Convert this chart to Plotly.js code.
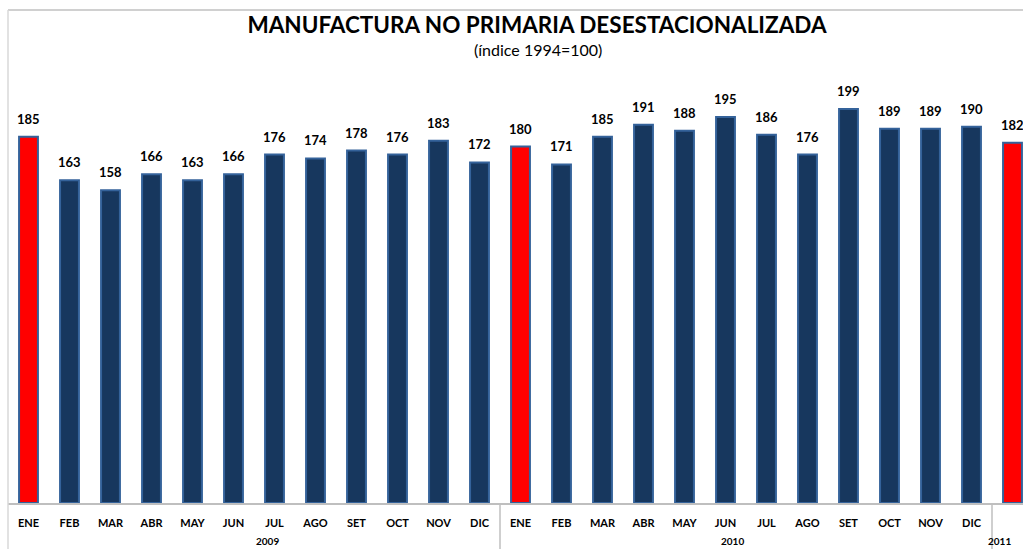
<!DOCTYPE html>
<html>
<head>
<meta charset="utf-8">
<script src="https://cdn.plot.ly/plotly-3.0.1.min.js"></script>
<style>
html,body{margin:0;padding:0;background:#fff;}
#chart{width:1023px;height:549px;}
</style>
</head>
<body>
<div id="chart"></div>
<script>
// Data
var months = ["ENE","FEB","MAR","ABR","MAY","JUN","JUL","AGO","SET","OCT","NOV","DIC",
              "ENE","FEB","MAR","ABR","MAY","JUN","JUL","AGO","SET","OCT","NOV","DIC",
              "ENE"];
var values = [185,163,158,166,163,166,176,174,178,176,183,172,
              180,171,185,191,188,195,186,176,199,189,189,190,
              182];
var years = ["2009","2010","2011"];
var yearCenters = [5.5,17.5,24];
var yearSeparators = [11.5,23.5];

var W = 1023, H = 549;
var mL = 8, mR = 0, mT = 10, mB = 46;
var plotW = W - mL - mR, plotH = H - mT - mB;
var catPx = 41;
var xSpan = plotW / catPx;
var xr = [-0.5, -0.5 + xSpan];
var pxPerUnit = 1.98;
var yMax = plotH / pxPerUnit;

var xs = months.map(function(_, i){ return i; });
var fills = months.map(function(m){ return m === "ENE" ? "#FF0000" : "#17375E"; });

var trace = {
  type: "bar",
  x: xs,
  y: values,
  marker: {color: fills, line: {color: "#34629A", width: 2}},
  width: 0.46,
  hoverinfo: "skip"
};

var FONT = "Lato, 'Liberation Sans', sans-serif";
function yPaper(py){ return (H - mB - py) / plotH; }
function xPaper(xd){ return (xd - xr[0]) / (xr[1] - xr[0]); }

var annotations = values.map(function(v, i){
  return {x: i, y: v, xref: "x", yref: "y", text: String(v), showarrow: false,
          yanchor: "bottom", yshift: 8,
          font: {family: FONT, size: 13, color: "#000", weight: "bold"}};
});
years.forEach(function(y, k){
  annotations.push({x: xPaper(yearCenters[k]), y: yPaper(541), xref: "paper", yref: "paper",
    text: y, showarrow: false, yanchor: "middle",
    font: {family: FONT, size: 10, color: "#000", weight: "bold"}});
});
annotations.push({x: (538 - mL) / plotW, y: yPaper(49), xref: "paper", yref: "paper",
  text: "(índice 1994=100)", showarrow: false, yanchor: "middle", xanchor: "center",
  font: {family: FONT, size: 16, color: "#000"}});

var shapes = [];
// top border
shapes.push({type: "line", xref: "paper", yref: "paper", x0: 0, x1: 1, y0: 1, y1: 1,
  line: {color: "#C0C0C0", width: 1.5}});
// left border
shapes.push({type: "line", xref: "paper", yref: "paper", x0: 0, x1: 0, y0: 1, y1: -mB/plotH,
  line: {color: "#D9D9D9", width: 1.5}});
// year separators
yearSeparators.forEach(function(s){
  shapes.push({type: "line", xref: "paper", yref: "paper", x0: xPaper(s), x1: xPaper(s), y0: 0, y1: -mB/plotH,
    line: {color: "#BFBFBF", width: 1.5}});
});

var layout = {
  width: W, height: H,
  margin: {l: mL, r: mR, t: mT, b: mB, pad: 0},
  paper_bgcolor: "#fff", plot_bgcolor: "#fff",
  showlegend: false,
  title: {text: "MANUFACTURA NO PRIMARIA DESESTACIONALIZADA",
    x: 537/W, xanchor: "center", xref: "container", y: 1 - 25/H, yanchor: "middle", yref: "container",
    font: {family: FONT, size: 22.5, color: "#000", weight: "bold"}},
  xaxis: {range: xr, tickmode: "array", tickvals: xs, ticktext: months, ticks: "",
    showgrid: false, zeroline: false, showline: true, linecolor: "#BFBFBF", linewidth: 1.5,
    ticklabelstandoff: 9,
    tickfont: {family: FONT, size: 11, color: "#000", weight: "bold"},
    fixedrange: true},
  yaxis: {range: [0, yMax], visible: false, showgrid: false, zeroline: false, fixedrange: true},
  annotations: annotations,
  shapes: shapes
};

Plotly.newPlot("chart", [trace], layout, {displayModeBar: false, staticPlot: true});
</script>
</body>
</html>
